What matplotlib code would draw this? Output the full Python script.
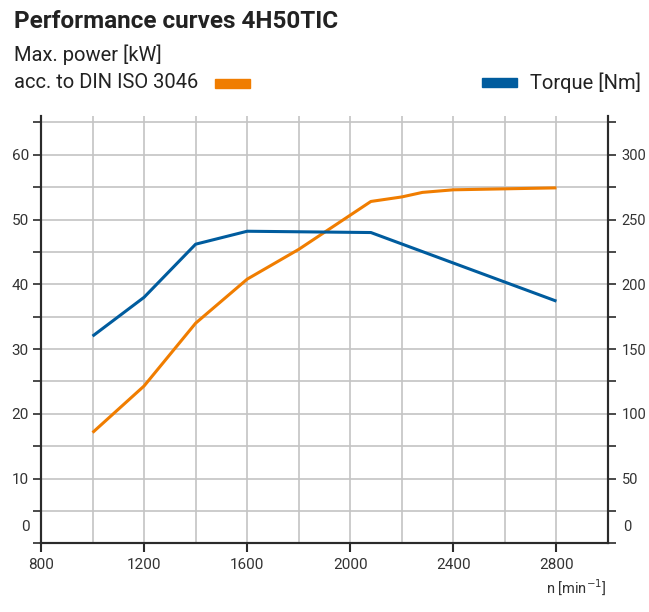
import matplotlib
matplotlib.use("Agg")
import matplotlib.pyplot as plt
from matplotlib.patches import Rectangle
import matplotlib.transforms as mtransforms

plt.rcParams['font.family'] = ['Roboto', 'DejaVu Sans']

# Data
rpm_power = [1000, 1200, 1400, 1600, 1800, 2080, 2200, 2280, 2400, 2800]
power_kw = [17.1, 24.3, 34.0, 40.8, 45.4, 52.8, 53.5, 54.2, 54.6, 54.9]
rpm_torque = [1000, 1200, 1400, 1600, 2080, 2800]
torque_nm = [160, 190, 231, 241, 240, 187]

x_ticks = [800, 1200, 1600, 2000, 2400, 2800]
x_minor = [1000, 1400, 1800, 2200, 2600]
y_left_labels = [10, 20, 30, 40, 50, 60]
y_right_labels = [50, 100, 150, 200, 250, 300]

ORANGE = '#F07D00'
BLUE = '#005C9E'
AXC = '#2b2b2b'
TXT = '#333333'
GRID = '#c4c4c4'

W, H = 649, 612
fig = plt.figure(figsize=(W / 100, H / 100), dpi=100)
ax = fig.add_axes([41 / W, 1 - 543.3 / H, (608 - 41) / W, (543.3 - 116) / H])
ax2 = ax.twinx()

ax.set_xlim(800, 3000)
ax.set_ylim(0, 66)
ax2.set_ylim(0, 330)

ax.plot(rpm_power, power_kw, color=ORANGE, lw=2.2, solid_capstyle='butt', zorder=3)
ax2.plot(rpm_torque, torque_nm, color=BLUE, lw=2.2, solid_capstyle='butt', zorder=3)

# x ticks / grid
ax.set_xticks(x_ticks)
ax.set_xticklabels([str(v) for v in x_ticks])
ax.set_xticks(x_minor, minor=True)
ax.tick_params(axis='x', which='major', direction='out', length=6.5, width=1.5,
               color=AXC, labelsize=11, labelcolor=TXT, pad=4)
ax.tick_params(axis='x', which='minor', length=0)

# left y ticks
ax.set_yticks([0] + y_left_labels)
ax.set_yticklabels([''] + [str(v) for v in y_left_labels])
ax.set_yticks([5, 15, 25, 35, 45, 55, 65], minor=True)
ax.tick_params(axis='y', which='both', direction='out', length=5.8, width=1.2,
               color=AXC, labelsize=11, labelcolor=TXT, pad=3)

# right y ticks
ax2.set_yticks([0] + y_right_labels)
ax2.set_yticklabels([''] + [str(v) for v in y_right_labels])
ax2.set_yticks([25, 75, 125, 175, 225, 275, 325], minor=True)
ax2.tick_params(axis='y', which='both', direction='out', length=5.8, width=1.2,
                color=AXC, labelsize=10.5, labelcolor=TXT, pad=4)

ax.grid(True, which='both', color=GRID, lw=1.2, zorder=0)
ax.set_axisbelow(True)

for a in (ax, ax2):
    a.spines['top'].set_visible(False)
    for s in ('left', 'right', 'bottom'):
        a.spines[s].set_color(AXC)
        a.spines[s].set_linewidth(1.5)

# zero labels, shifted up
tl = mtransforms.blended_transform_factory(ax.transAxes, ax.transData)
ax.text(-0.02, 2.5, '0', transform=tl, ha='right', va='center', fontsize=11, color=TXT)
ax.text(1.026, 2.5, '0', transform=tl, ha='left', va='center', fontsize=10.5, color=TXT)

# x-axis label
fig.text(607 / W, 1 - 587 / H, r'n [min$^{-1}$]', ha='right', va='center',
         fontsize=10.5, color=TXT)

# Titles / legend
fig.text(14 / W, 1 - 22 / H, 'Performance curves 4H50TIC', ha='left', va='center',
         fontsize=17.5, fontweight='bold', color='#222222')
fig.text(14 / W, 1 - 55 / H, 'Max. power [kW]', ha='left', va='center',
         fontsize=14.5, color='#222222')
fig.text(14 / W, 1 - 83 / H, 'acc. to DIN ISO 3046', ha='left', va='center',
         fontsize=14.5, color='#222222')
fig.patches.append(Rectangle((215 / W, 1 - 88 / H), 35 / W, 9 / H,
                             transform=fig.transFigure, color=ORANGE, figure=fig))
fig.patches.append(Rectangle((482 / W, 1 - 87 / H), 35 / W, 9 / H,
                             transform=fig.transFigure, color=BLUE, figure=fig))
fig.text(530 / W, 1 - 83 / H, 'Torque [Nm]', ha='left', va='center',
         fontsize=14.5, color='#222222')

fig.savefig('out.png', dpi=100)
